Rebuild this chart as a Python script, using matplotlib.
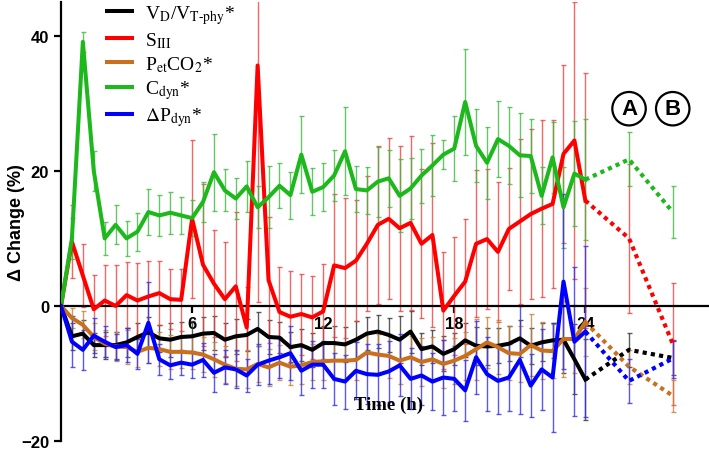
import matplotlib
matplotlib.use('Agg')
import matplotlib.pyplot as plt

plt.rcParams['mathtext.fontset'] = 'stix'
plt.rcParams['font.family'] = ['Liberation Sans', 'DejaVu Sans']

# hourly measurements (every 30 min, 0-24 h)
hours = [i * 0.5 for i in range(49)]
post_hours = [24, 26, 28]          # 24 h -> A -> B

vdvt = [0, -4.5, -4.1, -5.8, -5.8, -5.8, -5.4, -4.6, -3.9, -4.8, -5.0, -4.6, -4.5,
        -4.1, -4.0, -5.0, -4.5, -4.3, -3.4, -4.6, -4.7, -6.1, -5.8, -6.5, -5.5, -5.5,
        -5.7, -5.0, -4.1, -3.8, -4.3, -5.0, -3.8, -6.4, -6.0, -7.1, -6.4, -5.1, -5.9,
        -6.0, -5.9, -5.6, -4.8, -5.9, -5.4, -5.1, -5.0, -7.9, -10.9]
vdvt_err = [0, 2, 2, 1.8, 2, 2, 2.2, 2, 2.3, 2, 2.5, 2.2, 2.3, 2.5, 2.5, 2.5, 2.6, 2.4,
            2.5, 2.5, 2.3, 2.2, 2.4, 2.5, 2.5, 2.5, 2.6, 2.7, 2.5, 2.4, 2.5, 3.5, 3.1,
            2.4, 2.5, 2.6, 2.4, 2.5, 2.8, 2.7, 2.6, 2.6, 2.7, 2.7, 2.8, 2.6, 5, 5.2, 6]

s3 = [0, 9.5, 4.5, -0.5, 0.8, 0.0, 1.6, 0.8, 1.4, 1.9, 1.0, 0.9, 12.9, 6.1, 3.3, 1.0,
      2.9, -3.2, 35.6, 3.8, -0.9, -1.6, -1.2, -1.7, -0.8, 6.0, 5.6, 6.7, 9.2, 12.0, 12.9,
      11.5, 12.3, 9.2, 10.5, -0.7, 1.5, 3.6, 9.2, 9.9, 8.0, 11.4, 12.5, 13.6, 14.4, 15.1,
      22.5, 24.5, 15.6]
s3_err = [0, 5.4, 4.7, 5.1, 5.3, 6.1, 4.9, 5.6, 5.2, 4.7, 4.4, 4.6, 11.7, 12, 7.9, 8.4,
          11, 6, 35, 9.3, 6.6, 6.8, 6, 6.2, 7, 10.6, 10.4, 9, 10, 11.7, 11.9, 12.2, 12.9,
          11, 13.6, 8.7, 8.7, 9.2, 10.9, 10.3, 10.4, 9, 12.2, 12.6, 13.1, 12.4, 13.2,
          20.5, 18.9]

petco2 = [0, -1.8, -2.8, -4.6, -5.6, -6.0, -6.1, -6.8, -6.2, -6.4, -6.8, -6.8, -6.9,
          -7.2, -7.9, -8.7, -9.3, -9.4, -8.6, -9.1, -8.4, -9.0, -8.8, -8.3, -8.2, -8.1,
          -8.1, -8.0, -6.9, -7.2, -7.4, -8.1, -7.6, -8.3, -7.9, -8.6, -8.1, -7.4, -6.4,
          -5.4, -6.1, -7.0, -7.1, -5.8, -6.6, -6.7, -4.9, -4.9, -2.4]
petco2_err = [0, 1.5, 2, 2, 2, 2.2, 2.5, 2.3, 2.2, 2.5, 2.5, 2.4, 2.5, 2.6, 2.6, 2.7,
              2.6, 2.8, 2.7, 2.7, 2.6, 2.7, 2.8, 2.7, 2.8, 2.8, 2.8, 2.9, 3, 3, 3.2, 3.5,
              3.2, 3.5, 3.3, 3.5, 3.4, 3.5, 4.5, 3.8, 4, 4, 4.2, 4.6, 4.2, 4, 5.6, 5, 5]

cdyn = [0, 10, 39.1, 20, 10, 12, 10, 11, 13.9, 13.4, 13.8, 13.4, 13.0, 15.4, 19.8, 17.1,
        15.9, 17.7, 14.6, 16.1, 17.8, 16.4, 22.4, 16.9, 17.6, 19.3, 22.9, 17.3, 17.1,
        18.4, 18.9, 16.3, 17.4, 19.3, 20.8, 22.4, 23.3, 30.2, 23.7, 21.2, 24.7, 23.7,
        22.3, 22.2, 16.3, 22.0, 14.6, 19.6, 18.7]
cdyn_err = [0, 3, 1.5, 3, 2.5, 2.9, 2.6, 2.8, 3.4, 3.0, 3.1, 2.7, 2.7, 2.9, 5.7, 3.1,
            3.0, 3.8, 3.1, 4.6, 3.3, 3.5, 5.7, 3.5, 3.5, 3.8, 6.5, 3.4, 3.5, 5.2, 4.2,
            5.4, 4.5, 4.0, 4.5, 2.1, 4.8, 7.8, 5.4, 5.3, 5.6, 5.7, 6.2, 5.5, 4.2, 5.3,
            6.0, 7.8, 9.0]

dpdyn = [0, -5.3, -6.5, -4.4, -5.3, -6.1, -5.8, -7.1, -2.5, -7.9, -8.8, -8.4, -8.7,
         -8.0, -9.9, -9.1, -9.4, -10.3, -8.7, -8.1, -7.6, -7.0, -9.6, -8.7, -8.7, -10.8,
         -11.2, -9.6, -10.1, -10.2, -9.7, -8.8, -10.8, -10.3, -11.2, -10.6, -10.8, -12.5,
         -7.6, -10.1, -11.1, -10.6, -8.0, -11.8, -9.4, -10.6, 3.6, -5.3, -3.8]
dpdyn_err = [0, 3.8, 3, 2.6, 2.3, 1.9, 2.5, 2.2, 6, 2.3, 2, 1.9, 2, 2.5, 2.8, 2.5, 2.8,
             2.5, 3, 3.5, 3, 4, 3.6, 3.5, 3.5, 3.8, 4, 4.2, 4.4, 4.5, 4.5, 4.6, 4.5, 4.4,
             4.2, 5.5, 4.8, 4.5, 5.4, 5.5, 4.9, 4.9, 8, 4.7, 6, 8, 13, 11, 12.7]

# values at time points A and B
vdvt_ab, vdvt_ab_err = [-6.5, -7.7], [2.5, 2.5]
s3_ab, s3_ab_err = [10.0, -5.6], [11, 9]
petco2_ab, petco2_ab_err = [-9.0, -13.3], [2.5, 2.4]
cdyn_ab, cdyn_ab_err = [21.7, 13.9], [4, 3.9]
dpdyn_ab, dpdyn_ab_err = [-11.1, -7.8], [3.3, 2.8]

labels = [r'V$_\mathrm{D}$/V$_\mathrm{T‐phy}$*', r'S$_\mathrm{III}$',
          r'P$_\mathrm{et}$CO$_2$*', r'C$_\mathrm{dyn}$*', r'$\Delta$P$_\mathrm{dyn}$*']

series = [
    (vdvt, vdvt_err, vdvt_ab, vdvt_ab_err, '#000000', '#333333'),
    (s3, s3_err, s3_ab, s3_ab_err, '#ff0000', '#f04040'),
    (petco2, petco2_err, petco2_ab, petco2_ab_err, '#c8701e', '#c8803a'),
    (cdyn, cdyn_err, cdyn_ab, cdyn_ab_err, '#1cb81c', '#40b840'),
    (dpdyn, dpdyn_err, dpdyn_ab, dpdyn_ab_err, '#0000ff', '#3030ee'),
]
zorders = [3, 4, 3, 5, 6]

fig = plt.figure(figsize=(7.09, 4.52), dpi=100)
ax = fig.add_axes([61 / 709, 10 / 452, 648 / 709, 439 / 452])

for (vals, errs, ab, ab_err, col, ecol), lab, z in zip(series, labels, zorders):
    ax.errorbar(hours, vals, yerr=errs, fmt='none', ecolor=ecol, elinewidth=1,
                capsize=1.8, capthick=1, alpha=0.8, zorder=2)
    ax.errorbar(post_hours[1:], ab, yerr=ab_err, fmt='none', ecolor=ecol,
                elinewidth=1, capsize=1.8, capthick=1, alpha=0.8, zorder=2)
    ax.plot(hours, vals, color=col, lw=2.9, label=lab, zorder=z)
    ax.plot(post_hours, [vals[-1]] + ab, color=col, lw=3, linestyle=(0, (1, 1)),
            zorder=z)

ax.set_xlim(0, 29.66)
ax.set_ylim(-20, 45)

ax.spines['top'].set_visible(False)
ax.spines['right'].set_visible(False)
ax.spines['bottom'].set_position(('data', 0))
ax.spines['bottom'].set_linewidth(1.6)
ax.spines['left'].set_linewidth(1.6)

ax.set_yticks([-20, 0, 20, 40])
ax.set_xticks([6, 12, 18, 24])
ax.tick_params(axis='both', direction='out', length=5, width=1.6, labelsize=12)
ax.tick_params(axis='x', pad=2)
for t in ax.get_xticklabels() + ax.get_yticklabels():
    t.set_fontweight('bold')

ax.set_ylabel('Δ Change (%)', fontsize=13, fontweight='bold')
ax.yaxis.set_label_coords(-0.056, 0.5)
ax.text(15.0, -14.5, 'Time (h)', fontsize=13.5, fontweight='bold',
        family='Liberation Serif', ha='center', va='center')

for xpos, letter in zip(post_hours[1:], ['A', 'B']):
    ax.text(xpos, 29.2, letter, fontsize=16, fontweight='bold', ha='center',
            va='center', bbox=dict(boxstyle='circle,pad=0.28', fc='white',
                                   ec='black', lw=1.6))

ax.legend(loc='upper left', bbox_to_anchor=(107 / 709, 1 - 4 / 452),
          bbox_transform=fig.transFigure, frameon=False, borderaxespad=0,
          borderpad=0, handlelength=1.3, handletextpad=0.65, labelspacing=0.22,
          prop={'family': 'Liberation Serif', 'size': 14})

fig.savefig('out.png', dpi=100)
